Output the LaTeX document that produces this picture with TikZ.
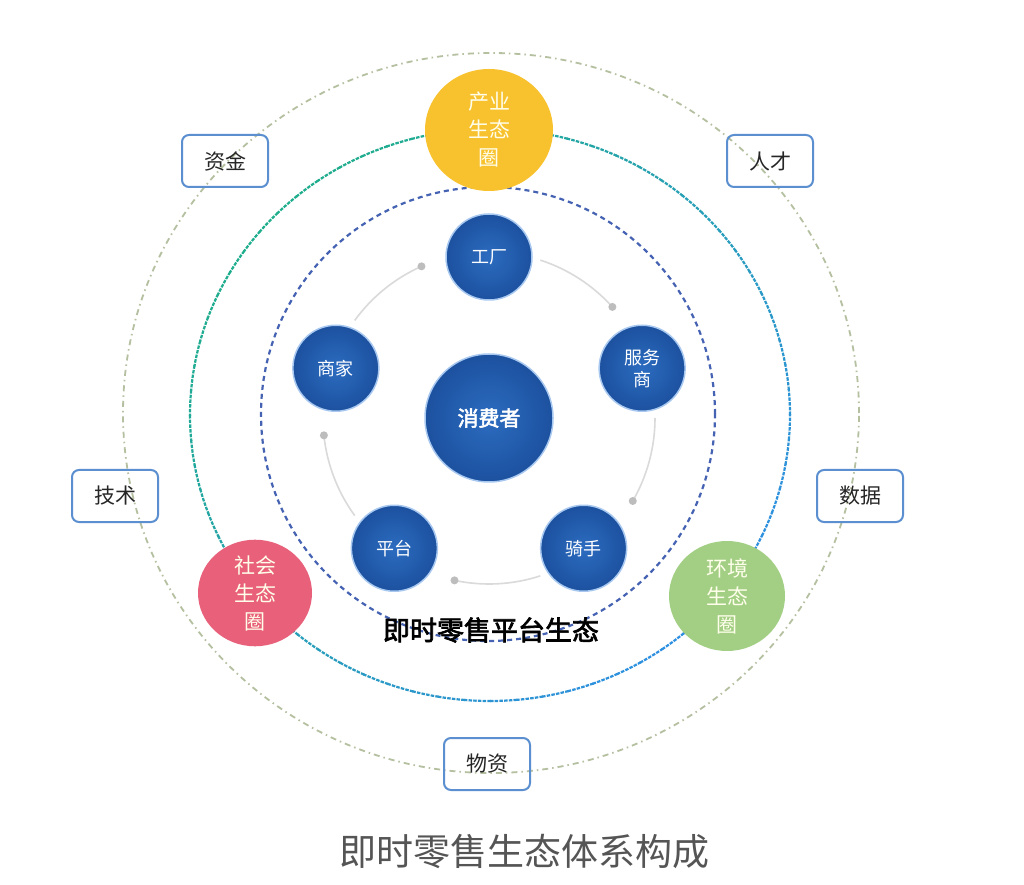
\documentclass[tikz,border=0pt]{standalone}
\usepackage{fontspec}
\setmainfont{Noto Sans CJK SC}
\newfontfamily\cjkbold[FakeBold=2.5]{Noto Sans CJK SC}
\usetikzlibrary{shapes.geometric}
\definecolor{ballin}{HTML}{2C6CC0}
\definecolor{ballout}{HTML}{1C519F}
\definecolor{ballrim}{HTML}{A8C8F0}
\definecolor{yel}{HTML}{F8C12E}
\definecolor{pnk}{HTML}{E8607A}
\definecolor{grn}{HTML}{A2CF84}
\definecolor{boxline}{HTML}{5B8FD0}
\definecolor{midg}{HTML}{1FAE8C}
\definecolor{midb}{HTML}{2E90E0}
\definecolor{innerb}{HTML}{4563B2}
\definecolor{outerc}{HTML}{B4C0A0}
\definecolor{arcg}{HTML}{DADADA}
\definecolor{dotg}{HTML}{BDBDBD}
\definecolor{titleg}{HTML}{555555}
\tikzset{
  ball/.style={circle, shading=radial, inner color=ballin, outer color=ballout,
    draw=ballrim, line width=1.5pt, text=white, font=\fontsize{18}{22}\selectfont,
    align=center, minimum size=86pt, inner sep=0pt},
  bigball/.style={ball, minimum size=128pt, font=\cjkbold\fontsize{21}{24}\selectfont},
  eco/.style={ellipse, text=white!92!yellow, font=\fontsize{21}{28}\selectfont,
    align=center, inner sep=0pt},
  resbox/.style={draw=boxline, line width=2pt, rounded corners=7pt,
    minimum width=86pt, minimum height=52pt, inner sep=0pt,
    font=\fontsize{21}{24}\selectfont, text=black!85},
  gdot/.style={circle, fill=dotg, inner sep=0pt, minimum size=8pt},
}
\begin{document}
\begin{tikzpicture}[x=1pt,y=1pt]
\useasboundingbox[fill=white] (0,0) rectangle (1024,884);
% centres
\coordinate (C) at (489,466);
\coordinate (Co) at (491,471);
\coordinate (Cm) at (490,469);
\coordinate (Ci) at (488,470);
% outer circle
\draw[outerc, line width=1.8pt, dash pattern=on 6pt off 4pt on 1.5pt off 4pt]
  (Co) ellipse[x radius=368pt, y radius=360pt];
% middle circle with colour gradient
\foreach \a in {0,5,...,355}{
  \pgfmathtruncatemacro\p{50+50*cos(\a-135)}
  \draw[midg!\p!midb, line width=2.2pt, dash pattern=on 3.5pt off 1.2pt]
    ([shift={(\a:300pt and 286pt)}]Cm) arc[start angle=\a, end angle=\a+5.2, x radius=300pt, y radius=286pt];
}
% inner dashed circle
\draw[innerb, line width=2.2pt, dash pattern=on 5pt off 4pt] (Ci) circle[radius=227pt];
% gray arcs with dots
\foreach \b [count=\i] in {90,18,-54,-126,162}{
  \draw[arcg, line width=1.6pt]
    ([shift={(\b-18:166pt)}]C) arc[start angle=\b-18, end angle=\b-48, radius=166pt]
    coordinate (d\i);
  \node[gdot] (dot\i) at (d\i) {};
}
% balls
\node[bigball] (cons) at (C) {消费者};
\node[ball] (fac) at ([shift={(90:161pt)}]C) {工厂};
\node[ball] (svc) at ([shift={(18:161pt)}]C) {服务\\商};
\node[ball] (rid) at ([shift={(-54:161pt)}]C) {骑手};
\node[ball] (plt) at ([shift={(-126:161pt)}]C) {平台};
\node[ball] (mer) at ([shift={(162:161pt)}]C) {商家};
% ecosystems
\node[eco, fill=yel, minimum width=128pt, minimum height=122pt] (ind) at (489,754) {产业\\生态\\圈};
\node[eco, fill=pnk, minimum width=114pt, minimum height=106pt] (soc) at (255,291) {社会\\生态\\圈};
\node[eco, fill=grn, minimum width=116pt, minimum height=110pt] (env) at (727,288) {环境\\生态\\圈};
% resource boxes
\node[resbox] (fund) at (225,723) {资金};
\node[resbox] (tal) at (770,723) {人才};
\node[resbox] (tech) at (115,388) {技术};
\node[resbox] (data) at (860,388) {数据};
\node[resbox] (mat) at (487,120) {物资};
% labels
\node[font=\cjkbold\fontsize{27}{30}\selectfont, text=black] (plat) at (491,254) {即时零售平台生态};
\node[font=\fontsize{37}{40}\selectfont, text=titleg] (title) at (524,32) {即时零售生态体系构成};
\end{tikzpicture}
\end{document}
